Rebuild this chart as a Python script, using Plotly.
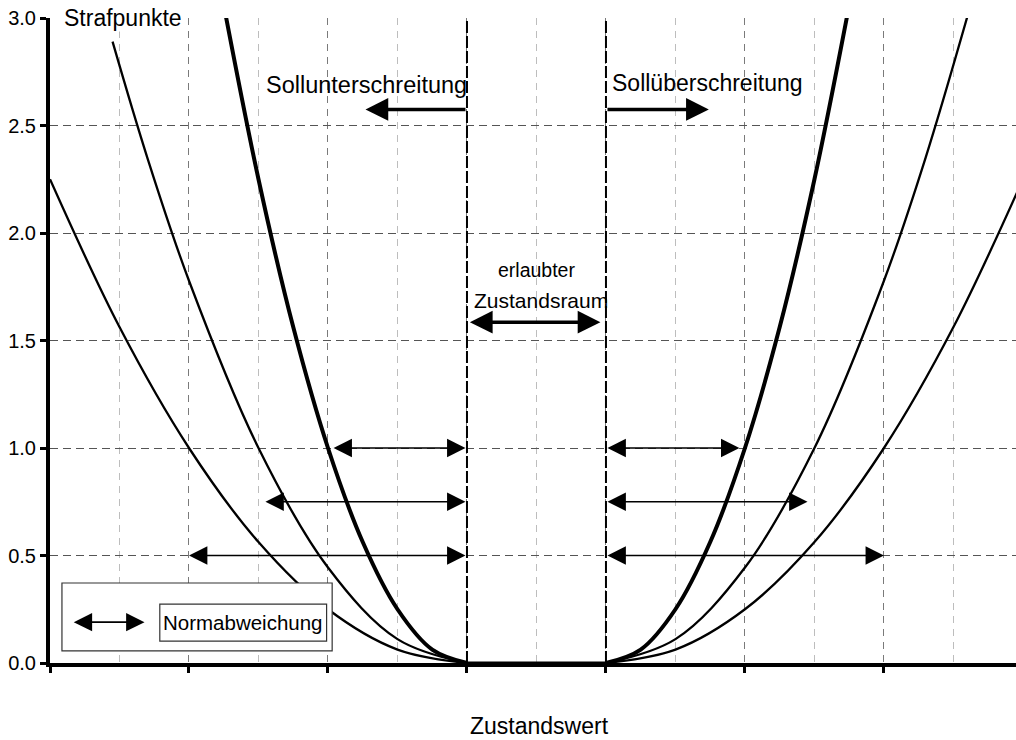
import plotly.graph_objects as go

# Allowed state range (Sollbereich) on the Zustandswert axis
LOWER_LIMIT = 3.0
UPPER_LIMIT = 4.0

# Penalty curves: distance from the limit -> Strafpunkte
inner_dist = [0.0, 0.25, 0.5, 0.75, 1.0, 1.25, 1.5, 1.75]
inner_pen = [0.0, 0.0625, 0.25, 0.5625, 1.0, 1.5625, 2.25, 3.06]

middle_dist_left = [0.0, 0.5, 1.0, 1.5, 2.0, 2.3, 2.55]
middle_pen_left = [0.0, 0.111, 0.444, 1.0, 1.778, 2.351, 2.89]
middle_dist_right = [0.0, 0.5, 1.0, 1.5, 2.0, 2.3, 2.65]
middle_pen_right = [0.0, 0.111, 0.444, 1.0, 1.778, 2.351, 3.12]

outer_dist = [0.0, 0.5, 1.0, 1.5, 2.0, 2.5, 3.0]
outer_pen = [0.0, 0.0625, 0.25, 0.5625, 1.0, 1.5625, 2.25]

# Normabweichung arrows: penalty level and arrow length
norm_levels = [1.0, 0.75, 0.5]
norm_lengths = [0.96, 1.45, 2.0]

y_ticks = [0.0, 0.5, 1.0, 1.5, 2.0, 2.5, 3.0]
x_major = [0, 1, 2, 3, 4, 5, 6]

FONT = "Liberation Sans, Arial, sans-serif"

fig = go.Figure()


def add_branches(dist_l, pen_l, dist_r, pen_r, width):
    fig.add_trace(go.Scatter(
        x=[LOWER_LIMIT - d for d in dist_l], y=pen_l, mode="lines",
        line=dict(color="black", width=width, shape="spline"),
        hoverinfo="skip", showlegend=False))
    fig.add_trace(go.Scatter(
        x=[UPPER_LIMIT + d for d in dist_r], y=pen_r, mode="lines",
        line=dict(color="black", width=width, shape="spline"),
        hoverinfo="skip", showlegend=False))


add_branches(outer_dist, outer_pen, outer_dist, outer_pen, 2.3)
add_branches(middle_dist_left, middle_pen_left, middle_dist_right, middle_pen_right, 2.3)
add_branches(inner_dist, inner_pen, inner_dist, inner_pen, 4.0)

# zero penalty inside the allowed range
fig.add_trace(go.Scatter(x=[LOWER_LIMIT, UPPER_LIMIT], y=[0, 0], mode="lines",
                         line=dict(color="black", width=3),
                         hoverinfo="skip", showlegend=False))

shapes = []
# limits of the allowed range
for xv in (LOWER_LIMIT, UPPER_LIMIT):
    shapes.append(dict(type="line", xref="x", yref="y", x0=xv, x1=xv, y0=0, y1=3.0,
                       line=dict(color="black", width=2, dash="12px,3px"), layer="above"))

annotations = []


def arrow(x_tip, y_tip, x_tail, y_tail, width, size, both=False):
    annotations.append(dict(
        x=x_tip, y=y_tip, ax=x_tail, ay=y_tail, xref="x", yref="y", axref="x", ayref="y",
        text="", showarrow=True, arrowhead=2, startarrowhead=2,
        arrowside="end+start" if both else "end",
        arrowsize=size, startarrowsize=size, arrowwidth=width, arrowcolor="black",
        standoff=0, startstandoff=0))


for lvl, ln in zip(norm_levels, norm_lengths):
    arrow(LOWER_LIMIT - ln, lvl, LOWER_LIMIT, lvl, 1.6, 2.3, both=True)
    arrow(UPPER_LIMIT + ln, lvl, UPPER_LIMIT, lvl, 1.6, 2.3, both=True)

# direction arrows
arrow(2.27, 2.575, LOWER_LIMIT, 2.575, 3.5, 1.3)
arrow(4.74, 2.575, UPPER_LIMIT, 2.575, 3.5, 1.3)
arrow(3.96, 1.585, 3.01, 1.585, 3.5, 1.3, both=True)


def label(txt, x, y, size=21, xanchor="center", **kw):
    annotations.append(dict(text=txt, x=x, y=y, xref=kw.pop("xref", "x"), yref=kw.pop("yref", "y"),
                            showarrow=False, xanchor=xanchor, yanchor="middle",
                            font=dict(family=FONT, size=size, color="black"), **kw))


label("Sollunterschreitung", 2.28, 2.69, size=23.5)
label("Sollüberschreitung", 4.73, 2.70, size=23)
label("erlaubter", 3.50, 1.83, size=19.5)
label("Zustandsraum", 3.53, 1.685, size=21)
label("Strafpunkte", 0.09, 3.0, size=23, xanchor="left", bgcolor="white", borderpad=0)
label("Zustandswert", 3.525, -0.098, size=23, yref="paper")

# legend box
shapes.append(dict(type="rect", xref="x", yref="y", x0=0.086, x1=2.03, y0=0.056, y1=0.372,
                   fillcolor="white", line=dict(color="#333", width=1.2), layer="above"))
shapes.append(dict(type="rect", xref="x", yref="y", x0=0.79, x1=1.99, y0=0.102, y1=0.274,
                   fillcolor="white", line=dict(color="#333", width=1.2), layer="above"))
label("Normabweichung", 1.39, 0.188, size=20.5)
arrow(0.68, 0.19, 0.16, 0.19, 1.6, 2.3, both=True)

fig.update_layout(
    width=1016, height=740, autosize=False,
    margin=dict(l=50, r=0, t=18, b=77),
    plot_bgcolor="white", paper_bgcolor="white",
    showlegend=False,
    shapes=shapes, annotations=annotations,
    xaxis=dict(range=[0, 6.95], tickvals=x_major, showticklabels=False,
               ticks="outside", ticklen=6, tickwidth=3, tickcolor="black",
               showline=True, linewidth=4, linecolor="black",
               showgrid=True, gridcolor="#7a7a7a", gridwidth=1.2, griddash="7px,6px",
               minor=dict(dtick=0.5, showgrid=True, gridcolor="#bdbdbd", gridwidth=1.2,
                          griddash="7px,6px", ticks=""),
               zeroline=False, fixedrange=True),
    yaxis=dict(range=[0, 3.0], tickvals=y_ticks, ticktext=[f"{v:.1f}" for v in y_ticks],
               ticks="outside", ticklen=6, tickwidth=3, tickcolor="black",
               tickfont=dict(family=FONT, size=20, color="black"),
               showline=True, linewidth=4, linecolor="black",
               showgrid=True, gridcolor="#555", gridwidth=1, griddash="8px,5px",
               zeroline=False, fixedrange=True),
)

fig.write_html("out.html")
